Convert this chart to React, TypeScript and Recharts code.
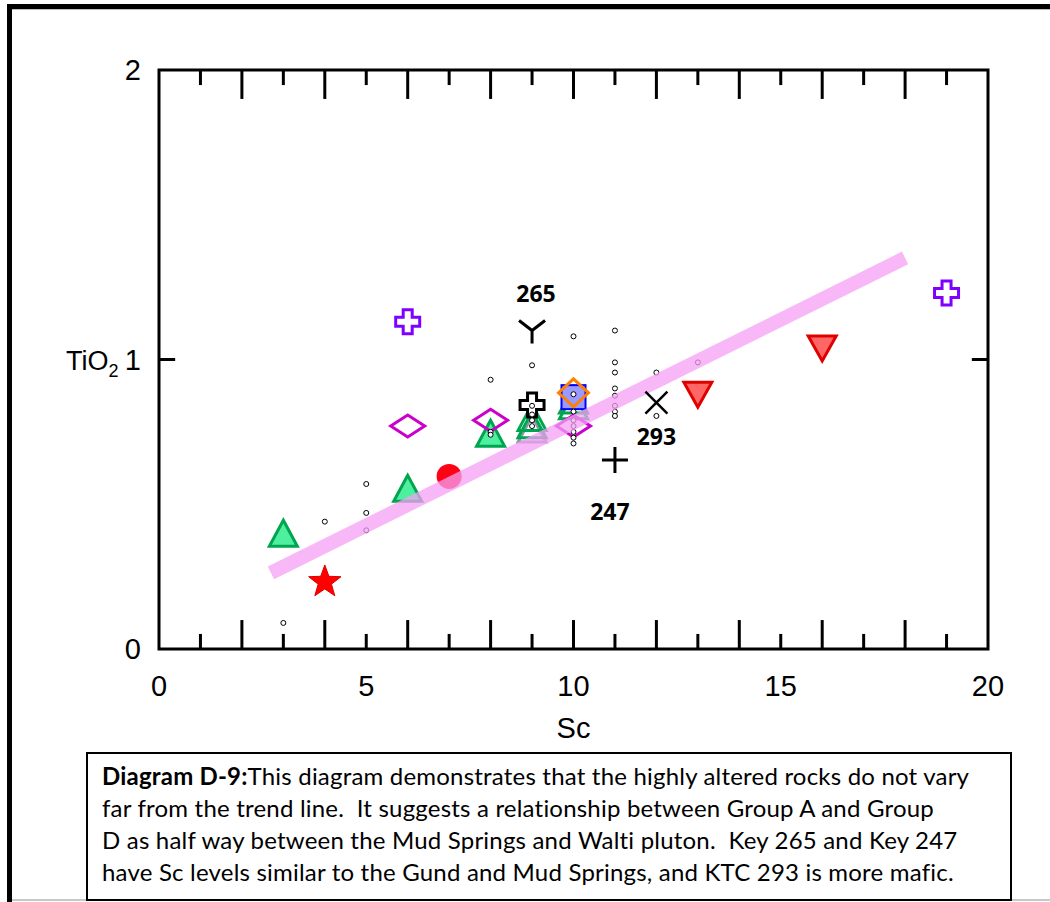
import React from 'react';
import { ScatterChart, Scatter, XAxis, YAxis, ReferenceArea, ReferenceLine } from 'recharts';

// axis ticks
const scLabelTicks = [0, 5, 10, 15, 20];
const tioLabelTicks = [0, 1, 2];
const scMinorTicks = [1, 2, 3, 4, 5, 6, 7, 8, 9, 10, 11, 12, 13, 14, 15, 16, 17, 18, 19];

// samples (Sc ppm, TiO2 wt%)
const smallDots = [
  { x: 3, y: 0.09 }, { x: 4, y: 0.44 }, { x: 5, y: 0.57 }, { x: 5, y: 0.47 }, { x: 5, y: 0.41 },
  { x: 8, y: 0.93 }, { x: 8, y: 0.75 }, { x: 8, y: 0.74 },
  { x: 9, y: 0.98 }, { x: 9, y: 0.84 }, { x: 9, y: 0.81 }, { x: 9, y: 0.79 }, { x: 9, y: 0.77 },
  { x: 10, y: 1.08 }, { x: 10, y: 0.88 }, { x: 10, y: 0.82 }, { x: 10, y: 0.79 }, { x: 10, y: 0.77 },
  { x: 10, y: 0.75 }, { x: 10, y: 0.73 }, { x: 10, y: 0.71 },
  { x: 11, y: 1.1 }, { x: 11, y: 0.99 }, { x: 11, y: 0.955 }, { x: 11, y: 0.9 }, { x: 11, y: 0.875 },
  { x: 11, y: 0.84 }, { x: 11, y: 0.82 }, { x: 11, y: 0.805 },
  { x: 12, y: 0.955 }, { x: 12, y: 0.805 },
  { x: 13, y: 0.99 },
];
const greenFilledTri = [{ x: 3, y: 0.4 }, { x: 6, y: 0.555 }, { x: 8, y: 0.745 }];
const greenOpenTri = [{ x: 9, y: 0.8 }, { x: 9, y: 0.775 }, { x: 10, y: 0.86 }, { x: 10, y: 0.84 }];
const greyTri = [{ x: 9, y: 0.76 }];
const blueSquare = [{ x: 10, y: 0.87 }];
const orangeDiamond = [{ x: 10, y: 0.885 }];
const magentaDiamond = [{ x: 6, y: 0.77 }, { x: 8, y: 0.79 }, { x: 10, y: 0.77 }];
const purpleCross = [{ x: 6, y: 1.13 }, { x: 19, y: 1.23 }];
const blackOpenCross = [{ x: 9, y: 0.843 }];
const redCircle = [{ x: 7, y: 0.596 }];
const redStar = [{ x: 4, y: 0.235 }];
const redDownTri = [{ x: 13, y: 0.88 }, { x: 16, y: 1.04 }];
const key265 = [{ x: 9, y: 1.1, key: '265' }];
const key293 = [{ x: 12, y: 0.851, key: '293' }];
const key247 = [{ x: 11, y: 0.653, key: '247' }];
const trendLine = [{ x: 2.7, y: 0.263 }, { x: 18, y: 1.351 }];

const axisFont = '"Liberation Sans", Arial, sans-serif';

const Dot = ({ cx, cy }: any) => <circle cx={cx} cy={cy} r={2.5} fill="#fff" stroke="#000" strokeWidth={1} />;

const triUp = (fill: string, stroke: string) => ({ cx, cy }: any) => (
  <polygon
    points={`${cx},${cy - 13} ${cx - 14},${cy + 13} ${cx + 14},${cy + 13}`}
    fill={fill}
    stroke={stroke}
    strokeWidth={3}
    strokeLinejoin="miter"
  />
);

const DownTri = ({ cx, cy }: any) => (
  <polygon
    points={`${cx - 14},${cy - 12} ${cx + 14},${cy - 12} ${cx},${cy + 13}`}
    fill="#ff6666"
    stroke="#e00000"
    strokeWidth={3}
  />
);

const diamond = (stroke: string, w: number, h: number) => ({ cx, cy }: any) => (
  <polygon
    points={`${cx - w / 2},${cy} ${cx},${cy - h / 2} ${cx + w / 2},${cy} ${cx},${cy + h / 2}`}
    fill="none"
    stroke={stroke}
    strokeWidth={3}
  />
);

const crossPath = (cx: number, cy: number, a: number, b: number) =>
  `M${cx - b},${cy - a} H${cx + b} V${cy - b} H${cx + a} V${cy + b} H${cx + b} V${cy + a} H${cx - b} V${cy + b} H${cx - a} V${cy - b} H${cx - b} Z`;

const openCross = (stroke: string, fill: string) => ({ cx, cy }: any) => (
  <path d={crossPath(cx, cy, 12, 4.5)} fill={fill} stroke={stroke} strokeWidth={3} />
);

const Square = ({ cx, cy }: any) => (
  <rect x={cx - 12} y={cy - 12} width={24} height={24} fill="#9999ff" stroke="#0000ff" strokeWidth={2} />
);

const RedDot = ({ cx, cy }: any) => <circle cx={cx} cy={cy} r={12.5} fill="#ff0014" />;

const Star = ({ cx, cy }: any) => {
  const pts: string[] = [];
  for (let i = 0; i < 10; i++) {
    const r = i % 2 === 0 ? 17 : 7;
    const ang = -Math.PI / 2 + (i * Math.PI) / 5;
    pts.push(`${cx + r * Math.cos(ang)},${cy + 1 + r * Math.sin(ang)}`);
  }
  return <polygon points={pts.join(' ')} fill="#ff0000" stroke="#e00000" strokeWidth={1} />;
};

const keyText = (x: number, y: number, s: string) => (
  <text x={x} y={y} textAnchor="middle" fontFamily='"Open Sans", sans-serif' fontWeight={700} fontSize={23} fill="#000">
    {s}
  </text>
);

const YMark = ({ cx, cy, payload }: any) => (
  <g>
    <path d={`M${cx - 13},${cy - 10} L${cx},${cy} L${cx + 13},${cy - 10} M${cx},${cy} V${cy + 13}`} stroke="#000" strokeWidth={3} fill="none" />
    {keyText(cx + 4, cy - 29, payload.key)}
  </g>
);

const XMark = ({ cx, cy, payload }: any) => (
  <g>
    <path d={`M${cx - 11},${cy - 11} L${cx + 11},${cy + 11} M${cx + 11},${cy - 11} L${cx - 11},${cy + 11}`} stroke="#000" strokeWidth={2.5} />
    {keyText(cx, cy + 42, payload.key)}
  </g>
);

const PlusMark = ({ cx, cy, payload }: any) => (
  <g>
    <path d={`M${cx - 13},${cy} H${cx + 13} M${cx},${cy - 13} V${cy + 13}`} stroke="#000" strokeWidth={3} />
    {keyText(cx - 5, cy + 60, payload.key)}
  </g>
);

const XTick = ({ x, y, payload }: any) => (
  <text x={x} y={y + 47} textAnchor="middle" fontFamily={axisFont} fontSize={29} fill="#000">
    {payload.value}
  </text>
);

const YTick = ({ x, y, payload }: any) => (
  <text x={x - 18} y={y + 10} textAnchor="end" fontFamily={axisFont} fontSize={29} fill="#000">
    {payload.value}
  </text>
);

const XLabel = ({ viewBox }: any) => (
  <text x={viewBox.x + viewBox.width / 2} y={viewBox.y + 89} textAnchor="middle" fontFamily={axisFont} fontSize={29} fill="#000">
    Sc
  </text>
);

const YLabel = ({ viewBox }: any) => (
  <text x={viewBox.x - 33} y={viewBox.y + 300} fontFamily={axisFont} fontSize={27} fill="#000">
    TiO
    <tspan fontSize={18} dy={7}>2</tspan>
  </text>
);

const Empty = () => <g />;

export default function App() {
  return (
    <div style={{ position: 'absolute', left: 0, top: 0, width: 1050, height: 902, background: '#fff', overflow: 'hidden' }}>
      <div style={{ position: 'absolute', left: 7, top: 4, width: 1043, height: 5, background: '#000' }} />
      <div style={{ position: 'absolute', left: 7, top: 9, width: 1043, height: 1, background: '#bbb' }} />
      <div style={{ position: 'absolute', left: 7, top: 4, width: 5, height: 898, background: '#000' }} />
      <div style={{ position: 'absolute', left: 12, top: 899, width: 1038, height: 2, background: '#c8c8c8' }} />

      <div style={{ position: 'absolute', left: 0, top: 0 }}>
        <ScatterChart width={1050} height={750} margin={{ top: 70, right: 62, left: 99, bottom: 41 }}>
          <XAxis
            type="number"
            dataKey="x"
            domain={[0, 20]}
            ticks={scLabelTicks}
            tick={<XTick />}
            tickLine={false}
            axisLine={false}
            tickSize={0}
            tickMargin={0}
            height={60}
            label={<XLabel />}
          />
          <YAxis
            type="number"
            dataKey="y"
            domain={[0, 2]}
            ticks={tioLabelTicks}
            tick={<YTick />}
            tickLine={false}
            axisLine={false}
            tickSize={0}
            tickMargin={0}
            width={60}
            label={<YLabel />}
          />

          <Scatter data={greenFilledTri} shape={triUp('#4ef0a0', '#00a550')} isAnimationActive={false} />
          <Scatter data={greyTri} shape={triUp('none', '#8899aa')} isAnimationActive={false} />
          <Scatter data={greenOpenTri} shape={triUp('none', '#00a550')} isAnimationActive={false} />
          <Scatter data={blueSquare} shape={Square} isAnimationActive={false} />
          <Scatter data={orangeDiamond} shape={diamond('#ff8000', 30, 28)} isAnimationActive={false} />
          <Scatter data={magentaDiamond} shape={diamond('#cc00cc', 34, 22)} isAnimationActive={false} />
          <Scatter data={purpleCross} shape={openCross('#8000ff', '#fff')} isAnimationActive={false} />
          <Scatter data={blackOpenCross} shape={openCross('#000', '#fff')} isAnimationActive={false} />
          <Scatter data={redCircle} shape={RedDot} isAnimationActive={false} />
          <Scatter data={redStar} shape={Star} isAnimationActive={false} />
          <Scatter data={redDownTri} shape={DownTri} isAnimationActive={false} />
          <Scatter data={smallDots} shape={Dot} isAnimationActive={false} />
          <Scatter
            data={trendLine}
            shape={Empty}
            line={{ stroke: '#f5a0f5', strokeWidth: 14, strokeOpacity: 0.75 }}
            lineType="joint"
            isAnimationActive={false}
          />
          <Scatter data={key265} shape={YMark} isAnimationActive={false} />
          <Scatter data={key293} shape={XMark} isAnimationActive={false} />
          <Scatter data={key247} shape={PlusMark} isAnimationActive={false} />

          {scMinorTicks.map((v) => (
            <ReferenceLine
              key={`b${v}`}
              segment={[{ x: v, y: 0 }, { x: v, y: v % 2 === 0 ? 0.1 : 0.052 }]}
              stroke="#000"
              strokeWidth={3}
            />
          ))}
          {scMinorTicks.map((v) => (
            <ReferenceLine
              key={`t${v}`}
              segment={[{ x: v, y: 2 }, { x: v, y: v % 2 === 0 ? 1.9 : 1.948 }]}
              stroke="#000"
              strokeWidth={3}
            />
          ))}
          <ReferenceLine segment={[{ x: 0, y: 1 }, { x: 0.39, y: 1 }]} stroke="#000" strokeWidth={3} />
          <ReferenceLine segment={[{ x: 20, y: 1 }, { x: 19.61, y: 1 }]} stroke="#000" strokeWidth={3} />
          <ReferenceArea x1={0} x2={20} y1={0} y2={2} fill="none" fillOpacity={0} stroke="#000" strokeWidth={3} />
        </ScatterChart>
      </div>

      <div
        style={{
          position: 'absolute',
          left: 86,
          top: 752,
          width: 908,
          height: 139,
          border: '2px solid #000',
          paddingLeft: 14,
          paddingTop: 6,
          fontFamily: 'Lato, sans-serif',
          fontSize: 24,
          letterSpacing: 0.2,
          lineHeight: '32px',
          color: '#000',
          whiteSpace: 'nowrap',
        }}
      >
        <div>
          <b>Diagram D-9:</b>This diagram demonstrates that the highly altered rocks do not vary
        </div>
        <div>far from the trend line.&nbsp; It suggests a relationship between Group A and Group</div>
        <div>D as half way between the Mud Springs and Walti pluton.&nbsp; Key 265 and Key 247</div>
        <div>have Sc levels similar to the Gund and Mud Springs, and KTC 293 is more mafic.</div>
      </div>
    </div>
  );
}
